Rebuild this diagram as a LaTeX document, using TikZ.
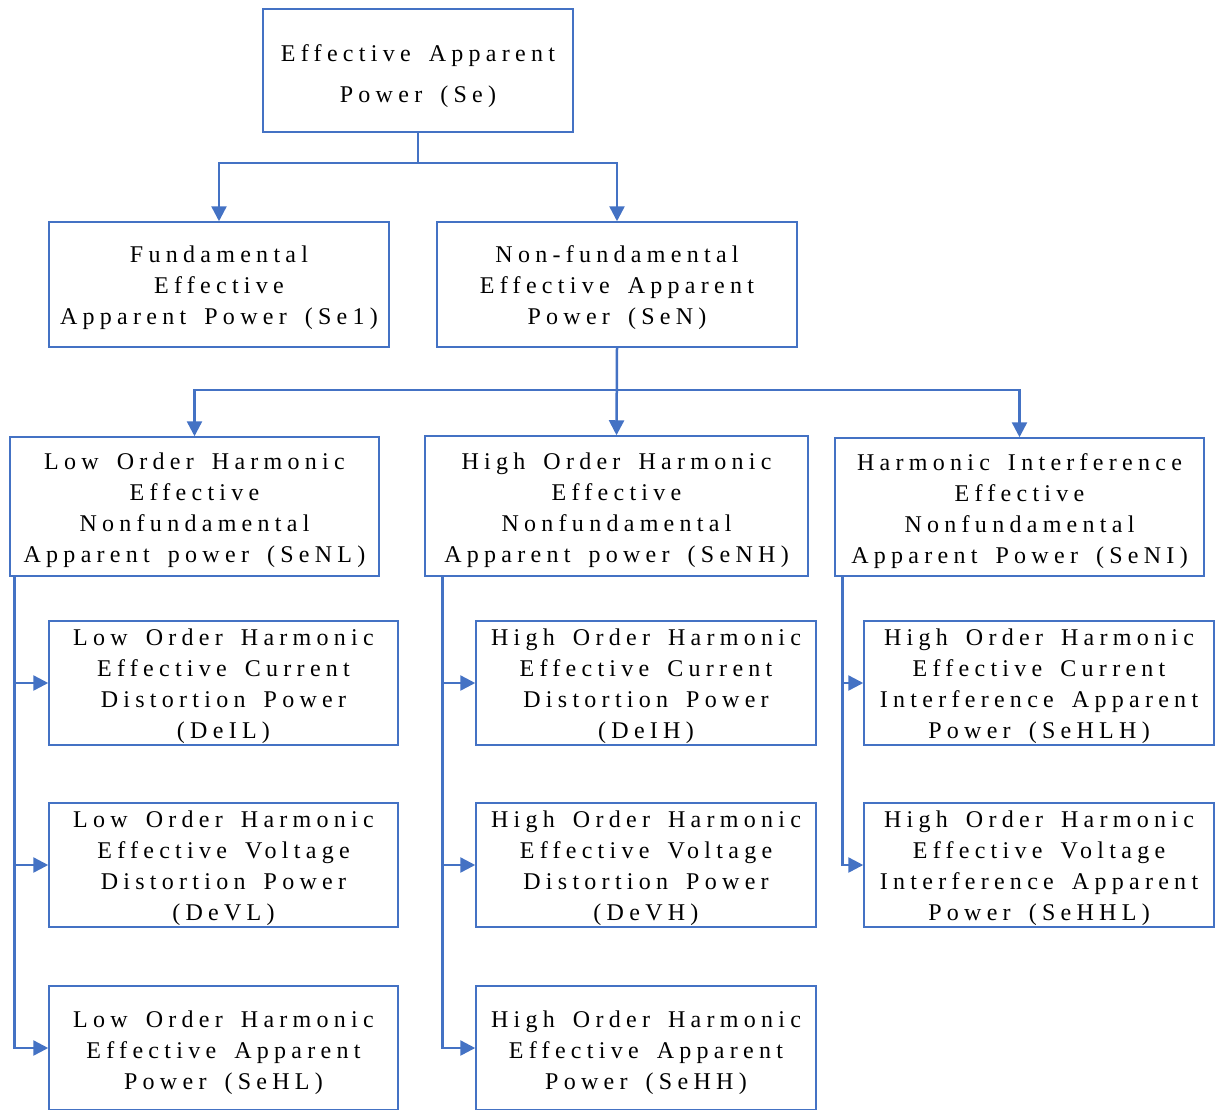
\documentclass[tikz,border=0pt]{standalone}
\usepackage{fontspec}
\setmainfont{Liberation Serif}[LetterSpace=22, WordSpace=1.6]
\usetikzlibrary{arrows.meta}

\definecolor{boxblue}{HTML}{4472C4}

% pushes a box's text a little down, as in the original
\newcommand{\lift}[1]{\rule{0pt}{#1}}

\tikzset{
  box/.style={draw=boxblue, line width=1.5pt, align=center, inner sep=0pt,
    font=\fontsize{24}{31}\selectfont},
  small/.style={box, minimum width=349pt, minimum height=124pt},
  link/.style={draw=boxblue, line width=2.5pt,
    -{Triangle[length=15pt, width=15pt]}},
}

\begin{document}
\begin{tikzpicture}[x=1pt, y=-1pt]

\useasboundingbox (0,0) rectangle (1220,1109);

% top level
\node[box, minimum width=310pt, minimum height=123pt,
  font=\fontsize{24}{41}\selectfont] (se) at (418,70.5)
  {\lift{29pt}Effective Apparent\\Power (Se)};

\node[box, minimum width=340pt, minimum height=125pt] (se1) at (219,284.5)
  {\lift{24pt}Fundamental\\Effective\\Apparent Power (Se1)};
\node[box, minimum width=360pt, minimum height=125pt] (sen) at (617,284.5)
  {\lift{24pt}Non-fundamental\\Effective Apparent\\Power (SeN)};

% second level
\node[box, minimum width=369pt, minimum height=139pt] (senl) at (194.5,506.5)
  {\lift{25pt}Low Order Harmonic\\Effective\\Nonfundamental\\Apparent power (SeNL)};
\node[box, minimum width=383pt, minimum height=140pt] (senh) at (616.5,506)
  {\lift{25pt}High Order Harmonic\\Effective\\Nonfundamental\\Apparent power (SeNH)};
\node[box, minimum width=369pt, minimum height=138pt] (seni) at (1019.5,507)
  {\lift{25pt}Harmonic Interference\\Effective\\Nonfundamental\\Apparent Power (SeNI)};

% leaves
\node[small] (deil) at (223.5,683)
  {\lift{24pt}Low Order Harmonic\\Effective Current\\Distortion Power\\(DeIL)};
\node[small] (devl) at (223.5,865)
  {\lift{24pt}Low Order Harmonic\\Effective Voltage\\Distortion Power\\(DeVL)};
\node[small] (sehl) at (223.5,1048)
  {\lift{26pt}Low Order Harmonic\\Effective Apparent\\Power (SeHL)};

\node[small, minimum width=340pt] (deih) at (646,683)
  {\lift{24pt}High Order Harmonic\\Effective Current\\Distortion Power\\(DeIH)};
\node[small, minimum width=340pt] (devh) at (646,865)
  {\lift{24pt}High Order Harmonic\\Effective Voltage\\Distortion Power\\(DeVH)};
\node[small, minimum width=340pt] (sehh) at (646,1048)
  {\lift{26pt}High Order Harmonic\\Effective Apparent\\Power (SeHH)};

\node[small, minimum width=350pt] (sehlh) at (1039,683)
  {\lift{24pt}High Order Harmonic\\Effective Current\\Interference Apparent\\Power (SeHLH)};
\node[small, minimum width=350pt] (sehhl) at (1039,865)
  {\lift{24pt}High Order Harmonic\\Effective Voltage\\Interference Apparent\\Power (SeHHL)};

% connectors
\draw[link] (se.south) -- ++(0,30) -| (se1.north);
\draw[link] (se.south) -- ++(0,30) -| (sen.north);

\draw[link] (sen.south) -- ++(0,42) -| (senl.north);
\draw[link] (sen.south) -- (senh.north);
\draw[link] (sen.south) -- ++(0,42) -| (seni.north);

\foreach \leaf in {deil, devl, sehl}
  \draw[link] ([xshift=5pt]senl.south west) |- (\leaf.west);
\foreach \leaf in {deih, devh, sehh}
  \draw[link] ([xshift=18pt]senh.south west) |- (\leaf.west);
\foreach \leaf in {sehlh, sehhl}
  \draw[link] ([xshift=8pt]seni.south west) |- (\leaf.west);

\end{tikzpicture}
\end{document}
